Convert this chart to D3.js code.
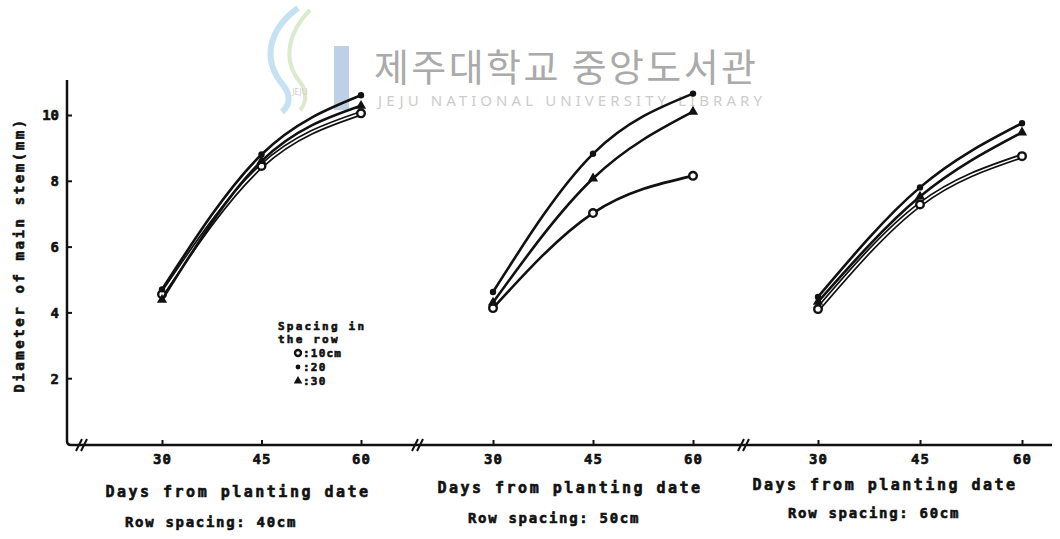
<!DOCTYPE html>
<html>
<head>
<meta charset="utf-8">
<script src="https://cdn.jsdelivr.net/npm/d3@7"></script>
<style>
  body { margin: 0; background: #fff; }
  svg text.ink { font-family: "DejaVu Sans Mono", monospace; font-weight: bold; fill: #111; stroke: #111; stroke-width: 0.6px; }
</style>
</head>
<body>
<script>
// values
var days = [30, 45, 60];
var rowSpacings = ["40cm", "50cm", "60cm"];
var yTicks = [2, 4, 6, 8, 10];
// one array per in-row spacing, one triple per panel (row spacing)
var spacing10 = [[4.55, 8.45, 10.05], [4.13, 7.02, 8.15], [4.10, 7.28, 8.75]];
var spacing20 = [[4.70, 8.80, 10.60], [4.62, 8.82, 10.65], [4.47, 7.80, 9.75]];
var spacing30 = [[4.38, 8.60, 10.28], [4.30, 8.07, 10.10], [4.32, 7.52, 9.47]];
var seriesNames = ["10cm", "20", "30"];

var W = 1060, H = 539;
var svg = d3.select("body").append("svg").attr("width", W).attr("height", H);

// watermark (library stamp)
var wm = svg.append("g").attr("opacity", 0.5);
wm.append("path").attr("d", "M298,8 C268,30 262,60 283,85 C292,96 289,106 282,112")
  .attr("fill", "none").attr("stroke", "#8fc6e6").attr("stroke-width", 6);
wm.append("path").attr("d", "M310,10 C288,32 282,60 300,82 C308,92 306,104 300,110")
  .attr("fill", "none").attr("stroke", "#b4d89a").attr("stroke-width", 4);
wm.append("rect").attr("x", 334).attr("y", 46).attr("width", 15).attr("height", 64).attr("fill", "#7fa2cf");
wm.append("text").attr("x", 300).attr("y", 95).attr("text-anchor", "middle")
  .style("font-family", "Noto Sans").style("font-size", "8px").style("fill", "#999").text("JEJU");
svg.append("text").attr("x", 374).attr("y", 81)
  .attr("textLength", 382)
  .style("font-family", "'Noto Sans CJK KR'")
  .style("font-size", "38px").style("fill", "#aaaaaa").text("제주대학교 중앙도서관");
svg.append("text").attr("x", 378).attr("y", 106)
  .attr("textLength", 384)
  .style("font-family", "'Noto Sans'")
  .style("font-size", "15px").style("fill", "#cccccc").text("JEJU NATIONAL UNIVERSITY LIBRARY");

var y = d3.scaleLinear().domain([0, 10]).range([444, 115]);
var axisX0 = 67, baseY = 445;

// y axis line with rounded corner into the x axis
svg.append("path")
  .attr("d", "M" + axisX0 + ",80 L" + axisX0 + "," + (baseY - 4) + " Q" + axisX0 + "," + baseY + " " + (axisX0 + 4) + "," + baseY + " L1052," + baseY)
  .attr("fill", "none").attr("stroke", "#111").attr("stroke-width", 2.5);

var yAxis = svg.append("g").attr("transform", "translate(" + axisX0 + ",0)")
  .call(d3.axisLeft(y).tickValues(yTicks).tickSizeInner(-5).tickSizeOuter(0).tickPadding(8));
yAxis.select(".domain").remove();
yAxis.selectAll("line").attr("stroke", "#111").attr("stroke-width", 2);
yAxis.selectAll("text").attr("class", "ink").style("font-size", "14px").attr("dy", "0.35em");

svg.append("text").attr("class", "ink")
  .attr("transform", "translate(24,255) rotate(-90)")
  .attr("text-anchor", "middle")
  .style("font-size", "14px").style("letter-spacing", "2.6px")
  .text("Diameter of main stem(mm)");

var panelRanges = [[162, 361], [493, 693], [818, 1022]];
var breakXs = [82, 418, 744];
var titleX = [238, 570, 885];
var titleY = [497, 493, 490];
var rowX = [211, 554, 874];
var rowY = [527, 523, 518];

var line = d3.line().curve(d3.curveNatural);

panelRanges.forEach(function (rng, p) {
  var x = d3.scaleLinear().domain([30, 60]).range(rng);

  var xAxis = svg.append("g").attr("transform", "translate(0," + baseY + ")")
    .call(d3.axisBottom(x).tickValues(days).tickSizeInner(-5).tickSizeOuter(0).tickPadding(9));
  xAxis.select(".domain").remove();
  xAxis.selectAll("line").attr("stroke", "#111").attr("stroke-width", 2);
  xAxis.selectAll("text").attr("class", "ink").style("font-size", "14px").style("letter-spacing", "1px");

  // axis break marks
  var bx = breakXs[p];
  svg.append("path")
    .attr("d", "M" + (bx - 6) + "," + (baseY + 6) + " L" + (bx) + "," + (baseY - 6) +
               " M" + (bx - 1) + "," + (baseY + 6) + " L" + (bx + 5) + "," + (baseY - 6))
    .attr("stroke", "#111").attr("stroke-width", 2).attr("fill", "none");

  svg.append("text").attr("class", "ink").attr("x", titleX[p]).attr("y", titleY[p]).attr("text-anchor", "middle")
    .style("font-size", "15px").style("letter-spacing", "2.5px").text("Days from planting date");
  svg.append("text").attr("class", "ink").attr("x", rowX[p]).attr("y", rowY[p]).attr("text-anchor", "middle")
    .style("font-size", "14px").style("letter-spacing", "1.7px").text("Row spacing: " + rowSpacings[p]);

  var series = [spacing10[p], spacing20[p], spacing30[p]];
  series.forEach(function (vals, s) {
    var pts = vals.map(function (v, i) { return [x(days[i]), y(v)]; });
    var tube = (p !== 1 && s === 0);
    svg.append("path").attr("d", line(pts)).attr("fill", "none")
      .attr("stroke", "#111").attr("stroke-width", tube ? 5 : 2.6).attr("stroke-linecap", "round");
    if (tube) {
      svg.append("path").attr("d", line(pts)).attr("fill", "none")
        .attr("stroke", "#fff").attr("stroke-width", 1.6);
    }
    pts.forEach(function (pt) {
      if (s === 0) {
        svg.append("circle").attr("cx", pt[0]).attr("cy", pt[1]).attr("r", 3.8)
          .attr("fill", "#fff").attr("stroke", "#111").attr("stroke-width", 2.4);
      } else if (s === 1) {
        svg.append("circle").attr("cx", pt[0]).attr("cy", pt[1]).attr("r", 3.2).attr("fill", "#111");
      } else {
        svg.append("path").attr("transform", "translate(" + pt[0] + "," + pt[1] + ")")
          .attr("d", d3.symbol().type(d3.symbolTriangle).size(45)).attr("fill", "#111");
      }
    });
  });
});

// legend inside first panel
var legend = svg.append("g");
legend.append("text").attr("class", "ink").attr("x", 278).attr("y", 330)
  .style("font-size", "11px").style("letter-spacing", "2.2px").text("Spacing in");
legend.append("text").attr("class", "ink").attr("x", 278).attr("y", 343)
  .style("font-size", "11px").style("letter-spacing", "2.2px").text("the row");
var legY = [357, 371, 385];
seriesNames.forEach(function (name, s) {
  var cx = 298, cy = legY[s] - 4;
  if (s === 0) {
    legend.append("circle").attr("cx", cx).attr("cy", cy).attr("r", 3)
      .attr("fill", "#fff").attr("stroke", "#111").attr("stroke-width", 2.4);
  } else if (s === 1) {
    legend.append("circle").attr("cx", cx).attr("cy", cy).attr("r", 2.4).attr("fill", "#111");
  } else {
    legend.append("path").attr("transform", "translate(" + cx + "," + cy + ")")
      .attr("d", d3.symbol().type(d3.symbolTriangle).size(32)).attr("fill", "#111");
  }
  legend.append("text").attr("class", "ink").attr("x", 303).attr("y", legY[s])
    .style("font-size", "11px").style("letter-spacing", "1.2px").text(":" + name);
});
</script>
</body>
</html>
